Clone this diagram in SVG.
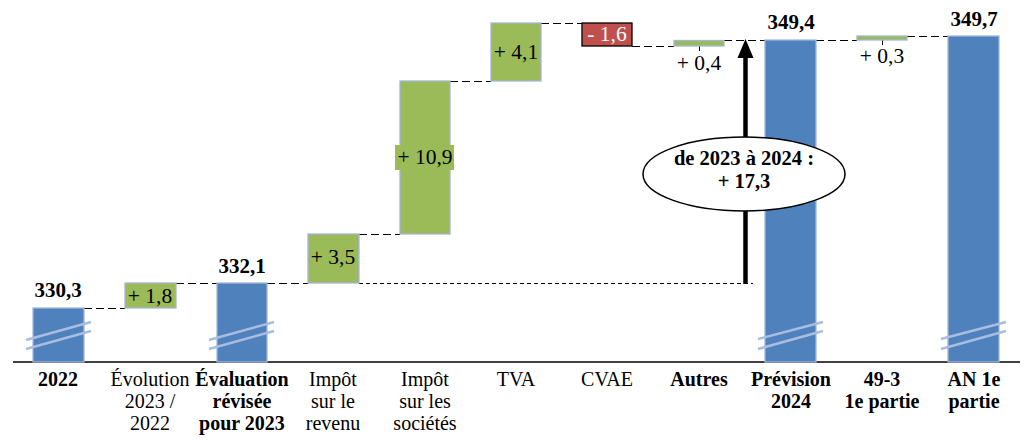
<svg xmlns="http://www.w3.org/2000/svg" width="1033" height="447" viewBox="0 0 1033 447">
<style>
.bar{fill:#4f81bd;stroke:#a3b6d8;stroke-width:1.3}
.inc{fill:#9bbb59;stroke:#a3b6d8;stroke-width:1.3}
.dec{fill:#c0504d;stroke:#000;stroke-width:1.3}
.brk{stroke:#a9bde0;stroke-width:2.5;fill:none}
.dash{stroke:#000;stroke-width:1;stroke-dasharray:8,4;fill:none}
.fine{stroke:#000;stroke-width:1;stroke-dasharray:4,3;fill:none}
text{text-anchor:middle}
.cat{font-size:20px}
.catb{font-size:20px;font-weight:bold}
.val{font-size:21.5px}
.tot{font-size:21px;font-weight:bold}
</style>
<rect width="1033" height="447" fill="#fff"/>
<g id="connectors">
<line class="dash" x1="84" y1="308.5" x2="125" y2="308.5"/>
<line class="dash" x1="176" y1="283.5" x2="217" y2="283.5"/>
<line class="dash" x1="267" y1="283.5" x2="308" y2="283.5"/>
<line class="fine" x1="359" y1="283.5" x2="753" y2="283.5"/>
<line class="dash" x1="359" y1="234.5" x2="400" y2="234.5"/>
<line class="dash" x1="450" y1="81.5" x2="491" y2="81.5"/>
<line class="dash" x1="541" y1="23.5" x2="582" y2="23.5"/>
<line class="dash" x1="632" y1="46.5" x2="674" y2="46.5"/>
<line class="dash" x1="724" y1="40.5" x2="765" y2="40.5"/>
<line class="dash" x1="816" y1="40.5" x2="857" y2="40.5"/>
<line class="dash" x1="907" y1="36.5" x2="948" y2="36.5"/>
<line x1="699.5" y1="46" x2="699.5" y2="51" stroke="#000" stroke-width="1"/>
<line x1="882.5" y1="40" x2="882.5" y2="45" stroke="#000" stroke-width="1"/>
<line x1="13" y1="362" x2="1020" y2="362" stroke="#000" stroke-width="1.5"/>
</g>
<g id="n2022">
<rect class="bar" x="33" y="308" width="51" height="54"/>
<path class="brk" d="M26 340 L91 322 M26 349 L91 331"/>
<text class="tot" x="58" y="297" font-family="Liberation Serif" style="font-family:'Liberation Serif',serif">330,3</text>
<text class="catb" x="58" y="386" font-family="Liberation Serif" style="font-family:'Liberation Serif',serif">2022</text>
</g>
<g id="nEvolution">
<rect class="inc" x="125" y="283" width="51" height="25"/>
<text class="val" x="150" y="303" font-family="Liberation Serif" style="font-family:'Liberation Serif',serif">+ 1,8</text>
<text class="cat" x="150" y="386" font-family="Liberation Serif" style="font-family:'Liberation Serif',serif">Évolution</text>
<text class="cat" x="150" y="408" font-family="Liberation Serif" style="font-family:'Liberation Serif',serif">2023 /</text>
<text class="cat" x="150" y="430" font-family="Liberation Serif" style="font-family:'Liberation Serif',serif">2022</text>
</g>
<g id="nEvaluation">
<rect class="bar" x="217" y="283" width="50" height="79"/>
<path class="brk" d="M209 340 L274 322 M209 349 L274 331"/>
<text class="tot" x="242" y="273" font-family="Liberation Serif" style="font-family:'Liberation Serif',serif">332,1</text>
<text class="catb" x="242" y="386" font-family="Liberation Serif" style="font-family:'Liberation Serif',serif">Évaluation</text>
<text class="catb" x="242" y="408" font-family="Liberation Serif" style="font-family:'Liberation Serif',serif">révisée</text>
<text class="catb" x="242" y="430" font-family="Liberation Serif" style="font-family:'Liberation Serif',serif">pour 2023</text>
</g>
<g id="nIR">
<rect class="inc" x="308" y="234" width="51" height="49"/>
<text class="val" x="333" y="264" font-family="Liberation Serif" style="font-family:'Liberation Serif',serif">+ 3,5</text>
<text class="cat" x="333" y="386" font-family="Liberation Serif" style="font-family:'Liberation Serif',serif">Impôt</text>
<text class="cat" x="333" y="408" font-family="Liberation Serif" style="font-family:'Liberation Serif',serif">sur le</text>
<text class="cat" x="333" y="430" font-family="Liberation Serif" style="font-family:'Liberation Serif',serif">revenu</text>
</g>
<g id="nIS">
<rect class="inc" x="400" y="81" width="50" height="153"/>
<rect x="395" y="145" width="59" height="25" fill="#9bbb59"/>
<text class="val" x="425" y="164" font-family="Liberation Serif" style="font-family:'Liberation Serif',serif">+ 10,9</text>
<text class="cat" x="425" y="386" font-family="Liberation Serif" style="font-family:'Liberation Serif',serif">Impôt</text>
<text class="cat" x="425" y="408" font-family="Liberation Serif" style="font-family:'Liberation Serif',serif">sur les</text>
<text class="cat" x="425" y="430" font-family="Liberation Serif" style="font-family:'Liberation Serif',serif">sociétés</text>
</g>
<g id="nTVA">
<rect class="inc" x="491" y="23" width="50" height="58"/>
<text class="val" x="516" y="59" font-family="Liberation Serif" style="font-family:'Liberation Serif',serif">+ 4,1</text>
<text class="cat" x="516" y="386" font-family="Liberation Serif" style="font-family:'Liberation Serif',serif">TVA</text>
</g>
<g id="nCVAE">
<rect class="dec" x="582" y="23" width="50" height="23"/>
<text class="val" x="607" y="41" fill="#fff" font-family="Liberation Serif" style="font-family:'Liberation Serif',serif">- 1,6</text>
<text class="cat" x="607" y="386" font-family="Liberation Serif" style="font-family:'Liberation Serif',serif">CVAE</text>
</g>
<g id="nAutres">
<rect class="inc" x="674" y="40.5" width="50" height="5.5"/>
<text class="val" x="699" y="70" font-family="Liberation Serif" style="font-family:'Liberation Serif',serif">+ 0,4</text>
<text class="catb" x="699" y="386" font-family="Liberation Serif" style="font-family:'Liberation Serif',serif">Autres</text>
</g>
<g id="nPrevision">
<rect class="bar" x="765" y="40" width="51" height="322"/>
<path class="brk" d="M758 339 L823 322 M758 349 L823 331"/>
<text class="tot" x="791" y="29" font-family="Liberation Serif" style="font-family:'Liberation Serif',serif">349,4</text>
<text class="catb" x="791" y="386" font-family="Liberation Serif" style="font-family:'Liberation Serif',serif">Prévision</text>
<text class="catb" x="791" y="408" font-family="Liberation Serif" style="font-family:'Liberation Serif',serif">2024</text>
</g>
<g id="n493">
<rect class="inc" x="857" y="36" width="50" height="4"/>
<text class="val" x="882" y="63" font-family="Liberation Serif" style="font-family:'Liberation Serif',serif">+ 0,3</text>
<text class="catb" x="882" y="386" font-family="Liberation Serif" style="font-family:'Liberation Serif',serif">49-3</text>
<text class="catb" x="882" y="408" font-family="Liberation Serif" style="font-family:'Liberation Serif',serif">1e partie</text>
</g>
<g id="nAN">
<rect class="bar" x="948" y="36" width="51" height="326"/>
<path class="brk" d="M941 339 L1006 322 M941 349 L1006 331"/>
<text class="tot" x="974" y="26" font-family="Liberation Serif" style="font-family:'Liberation Serif',serif">349,7</text>
<text class="catb" x="974" y="386" font-family="Liberation Serif" style="font-family:'Liberation Serif',serif">AN 1e</text>
<text class="catb" x="974" y="408" font-family="Liberation Serif" style="font-family:'Liberation Serif',serif">partie</text>
</g>
<g id="nDelta">
<line x1="745.5" y1="284" x2="745.5" y2="56" stroke="#000" stroke-width="4.5"/>
<polygon points="745.5,39 737.5,58 753.5,58" fill="#000"/>
<ellipse cx="744" cy="174" rx="101" ry="37" fill="#fff" stroke="#000" stroke-width="1.5"/>
<text class="tot" x="744" y="165" style="font-family:'Liberation Serif',serif;font-size:20.5px" font-family="Liberation Serif">de 2023 à 2024 :</text>
<text class="tot" x="744" y="188" style="font-family:'Liberation Serif',serif;font-size:20.5px" font-family="Liberation Serif">+ 17,3</text>
</g>
</svg>
